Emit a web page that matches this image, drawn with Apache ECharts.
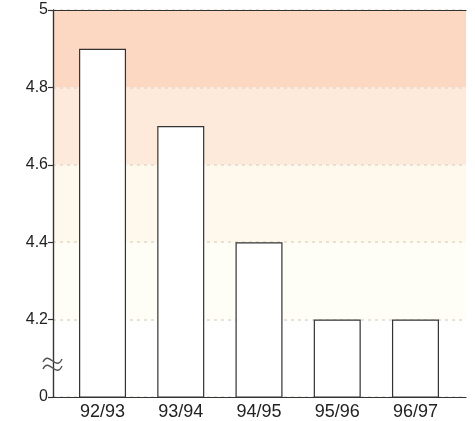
<!DOCTYPE html>
<html>
<head>
<meta charset="utf-8">
<script src="https://cdn.jsdelivr.net/npm/echarts@6/dist/echarts.min.js"></script>
<style>
  html, body { margin: 0; padding: 0; background: #fff; }
  #chart { width: 475px; height: 421px; }
</style>
</head>
<body>
<div id="chart"></div>
<script>
// Seasons along the x axis and the value for each season
const seasons = ['92/93', '93/94', '94/95', '95/96', '96/97'];
const values = [4.9, 4.7, 4.4, 4.2, 4.2];

// Broken value axis: the bottom of the scale stands for 0
const axisMin = 4.0;
const axisMax = 5.0;
const axisStep = 0.2;

// Tinted bands from the bottom band to the top band
const bandColors = ['#ffffff', '#fffef6', '#fff8ec', '#feeadb', '#fcd8c2'];

const textColor = '#222222';
const lineColor = '#333333';
const fontFamily = '"Liberation Sans", Arial, sans-serif';

const chart = echarts.init(document.getElementById('chart'), null, { renderer: 'canvas' });

const frameLine = { show: true, lineStyle: { color: lineColor, width: 1.2 } };

chart.setOption({
  animation: false,
  backgroundColor: '#ffffff',
  grid: [
    // outer frame carrying the value scale
    { left: 53, right: 9, top: 10, bottom: 24 },
    // inner area holding the bars
    { left: 63.4, right: 20.4, top: 10, bottom: 24 }
  ],
  xAxis: [
    {
      gridIndex: 0, type: 'value', min: 0, max: 1, position: 'bottom', z: 5,
      axisLine: frameLine,
      axisTick: { show: false }, axisLabel: { show: false }, splitLine: { show: false }
    },
    {
      gridIndex: 0, type: 'value', min: 0, max: 1, position: 'top', z: 5,
      axisLine: frameLine,
      axisTick: { show: false }, axisLabel: { show: false }, splitLine: { show: false }
    },
    {
      gridIndex: 1, type: 'category', data: seasons,
      axisLine: { show: false }, axisTick: { show: false },
      axisLabel: { color: textColor, fontSize: 18, fontFamily: fontFamily, margin: 6 }
    }
  ],
  yAxis: [
    {
      gridIndex: 0, type: 'value', min: axisMin, max: axisMax, interval: axisStep,
      axisLine: frameLine,
      axisTick: { show: true, length: 5, lineStyle: { color: lineColor, width: 1.2 } },
      axisLabel: {
        color: textColor, fontSize: 16, fontFamily: fontFamily, margin: 5,
        formatter: function (v) {
          if (Math.abs(v - axisMin) < 1e-6) return '0';
          return String(Math.round(v * 10) / 10);
        }
      },
      splitLine: { show: true, lineStyle: { color: '#e3d9cc', type: [3, 4], width: 1.5 } },
      splitArea: { show: true, areaStyle: { color: bandColors } }
    },
    {
      gridIndex: 0, type: 'value', min: axisMin, max: axisMax, position: 'right', z: 5,
      axisLine: frameLine,
      axisTick: { show: false }, axisLabel: { show: false }, splitLine: { show: false }
    },
    {
      gridIndex: 1, type: 'value', min: axisMin, max: axisMax, interval: axisStep, show: false
    }
  ],
  series: [
    {
      type: 'bar', xAxisIndex: 2, yAxisIndex: 2, z: 3,
      data: values, barWidth: 47,
      itemStyle: { color: '#ffffff', borderColor: lineColor, borderWidth: 1.2 }
    }
  ],
  graphic: [
    // axis break sign on the value axis
    {
      type: 'bezierCurve', z: 10,
      shape: { x1: 43, y1: 362, cpx1: 49, cpy1: 350, cpx2: 56, cpy2: 372, x2: 62, y2: 359 },
      style: { stroke: '#555555', lineWidth: 1.4, fill: null }
    },
    {
      type: 'bezierCurve', z: 10,
      shape: { x1: 43, y1: 369, cpx1: 49, cpy1: 357, cpx2: 56, cpy2: 379, x2: 62, y2: 366 },
      style: { stroke: '#555555', lineWidth: 1.4, fill: null }
    }
  ]
});
</script>
</body>
</html>
